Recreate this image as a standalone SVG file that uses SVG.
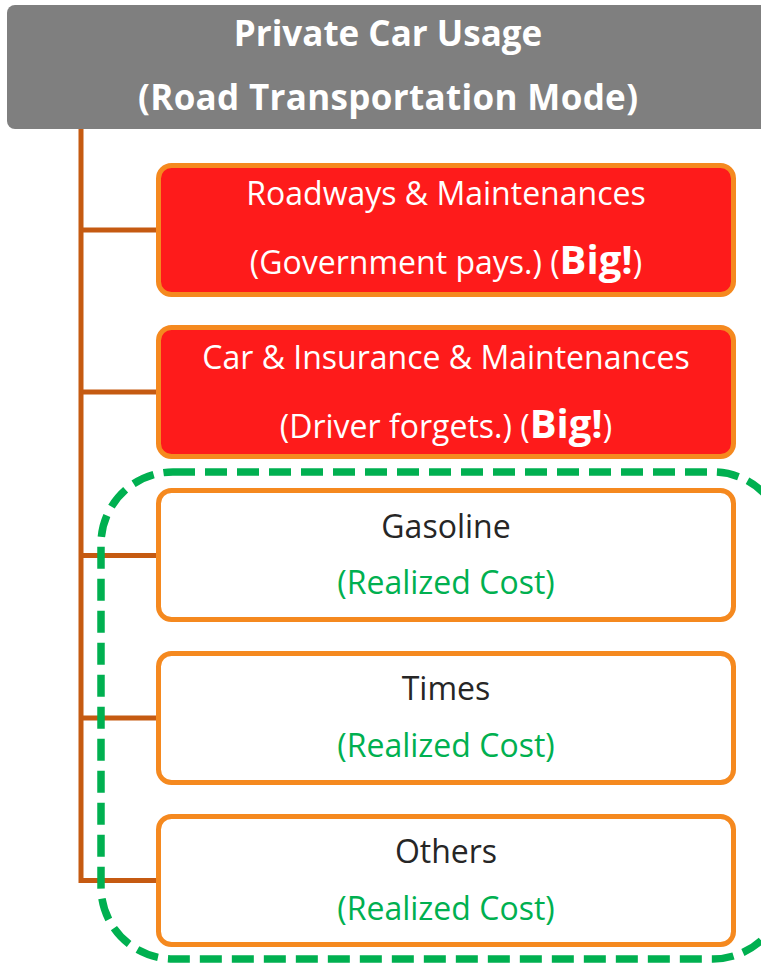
<svg xmlns="http://www.w3.org/2000/svg" width="761" height="963" viewBox="0 0 761 963">
<style>
.hdr{fill:#7F7F7F}
.htxt{font-family:"Open Sans","Liberation Sans",sans-serif;font-weight:700;font-size:35px;fill:#FFFFFF;text-anchor:middle}
.conn{fill:none;stroke:#C55A11;stroke-width:5}
.red{fill:#FE1B1B;stroke:#F5891F;stroke-width:5}
.wht{fill:#FFFFFF;stroke:#F5891F;stroke-width:5}
.t{font-family:"Open Sans","Liberation Sans",sans-serif;font-size:32px;text-anchor:middle}
.tw{fill:#FFFFFF}
.tk{fill:#262626}
.tg{fill:#00B050}
.big{font-weight:700;font-size:40px}
.grp{fill:none;stroke:#00B050;stroke-width:7.5;stroke-dasharray:22 10}
</style>
<g id="connectors">
<path class="conn" d="M81 129 V880.5 H158"/>
<path class="conn" d="M81 230 H158"/>
<path class="conn" d="M81 392 H158"/>
<path class="conn" d="M81 555.5 H158"/>
<path class="conn" d="M81 718 H158"/>
</g>
<g id="header">
<rect class="hdr" x="7" y="5" width="775" height="124" rx="8"/>
<text class="htxt" x="388" y="46">Private Car Usage</text>
<text class="htxt" x="388" y="110" textLength="500" lengthAdjust="spacing">(Road Transportation Mode)</text>
</g>
<g id="roadways">
<rect class="red" x="158.5" y="165.5" width="575" height="129" rx="13"/>
<text class="t tw" x="446" y="205">Roadways &amp; Maintenances</text>
<text class="t tw" x="446" y="274">(Government pays.) (<tspan class="big">Big!</tspan>)</text>
</g>
<g id="car">
<rect class="red" x="158.5" y="327.5" width="575" height="129" rx="13"/>
<text class="t tw" x="446" y="369">Car &amp; Insurance &amp; Maintenances</text>
<text class="t tw" x="446" y="438">(Driver forgets.) (<tspan class="big">Big!</tspan>)</text>
</g>
<g id="gasoline">
<rect class="wht" x="158.5" y="490.5" width="575" height="129" rx="13"/>
<text class="t tk" x="446" y="538">Gasoline</text>
<text class="t tg" x="446" y="594">(Realized Cost)</text>
</g>
<g id="times">
<rect class="wht" x="158.5" y="653.5" width="575" height="129" rx="13"/>
<text class="t tk" x="446" y="700">Times</text>
<text class="t tg" x="446" y="757">(Realized Cost)</text>
</g>
<g id="others">
<rect class="wht" x="158.5" y="816.5" width="575" height="128" rx="13"/>
<text class="t tk" x="446" y="863">Others</text>
<text class="t tg" x="446" y="920">(Realized Cost)</text>
</g>
<g id="realized-group">
<rect class="grp" x="101" y="472" width="684" height="487" rx="72"/>
</g>
</svg>
